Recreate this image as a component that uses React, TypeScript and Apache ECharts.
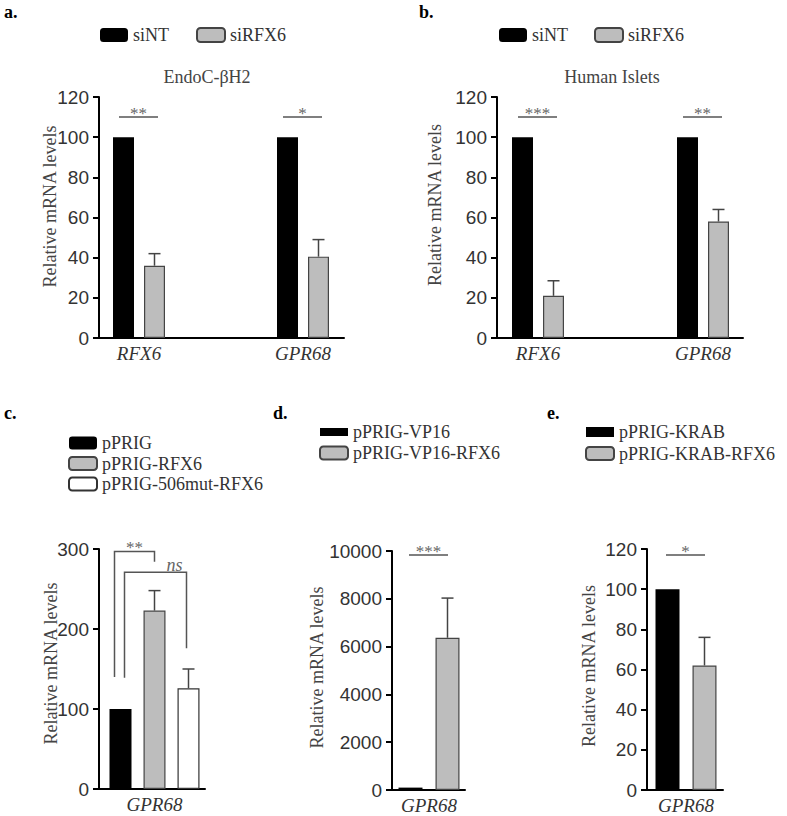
import React, { useEffect, useRef } from "react";
import * as echarts from "echarts";

// ---------- data ----------
const categoriesAB = ["RFX6", "GPR68"];
const siNT_a = [100, 100];
const siRFX6_a = [36, 40.5];
const siRFX6_a_err = [6, 8.5];
const sig_a = [
  { cat: 0, y: 110, label: "**" },
  { cat: 1, y: 110, label: "*" },
];

const siNT_b = [100, 100];
const siRFX6_b = [21, 58];
const siRFX6_b_err = [7.5, 6];
const sig_b = [
  { cat: 0, y: 110, label: "***" },
  { cat: 1, y: 110, label: "**" },
];

const categoriesC = ["GPR68"];
const pPRIG_c = [100];
const pPRIG_RFX6_c = [223];
const pPRIG_RFX6_c_err = [25];
const pPRIG_506_c = [126];
const pPRIG_506_c_err = [24];
const brackets_c = [
  { from: 0, to: 1, y: 297, yFrom: 140, yTo: 284, label: "**", dxFrom: -6, dxTo: 0, labelDx: 0, italic: false },
  { from: 0, to: 2, y: 271, yFrom: 139, yTo: 176, label: "ns", dxFrom: 4, dxTo: -2, labelDx: 19, italic: true },
];

const categoriesD = ["GPR68"];
const vp16_d = [100];
const vp16_rfx6_d = [6370];
const vp16_rfx6_d_err = [1660];
const sig_d = [{ cat: 0, y: 9830, label: "***" }];

const categoriesE = ["GPR68"];
const krab_e = [100];
const krab_rfx6_e = [62];
const krab_rfx6_e_err = [14];
const sig_e = [{ cat: 0, y: 117, label: "*" }];

const yTicksAB = { max: 120, interval: 20 };
const yTicksC = { max: 300, interval: 100 };
const yTicksD = { max: 10000, interval: 2000 };
const yTicksE = { max: 120, interval: 20 };

// ---------- styles ----------
const SERIF = "'Liberation Serif', 'Times New Roman', serif";
const SANS = "'Liberation Sans Narrow', 'Liberation Sans', Arial, sans-serif";
const BLACK = { color: "#000" };
const GRAY = { color: "#bdbdbd", borderColor: "#444", borderWidth: 1.2 };
const WHITE = { color: "#fff", borderColor: "#333", borderWidth: 1.2 };

type Panel = {
  frame: { left: number; top: number; width: number; height: number };
  barsLeft: number;
  barsWidth: number;
  barWidth: number;
  gap: number;
  nBars: number;
  cats: string[];
  ticks: { max: number; interval: number };
};

const panels: Panel[] = [
  { frame: { left: 99, top: 97, width: 245, height: 241 }, barsLeft: 57, barsWidth: 328, barWidth: 21, gap: 10, nBars: 2, cats: categoriesAB, ticks: yTicksAB },
  { frame: { left: 497, top: 97, width: 246, height: 241 }, barsLeft: 455.5, barsWidth: 330, barWidth: 21, gap: 10, nBars: 2, cats: categoriesAB, ticks: yTicksAB },
  { frame: { left: 99, top: 549, width: 106, height: 240 }, barsLeft: 100.5, barsWidth: 108, barWidth: 22, gap: 12, nBars: 3, cats: categoriesC, ticks: yTicksC },
  { frame: { left: 392, top: 551, width: 73, height: 239 }, barsLeft: 392, barsWidth: 74, barWidth: 24, gap: 13, nBars: 2, cats: categoriesD, ticks: yTicksD },
  { frame: { left: 647, top: 549, width: 76, height: 241 }, barsLeft: 648, barsWidth: 76, barWidth: 24, gap: 13, nBars: 2, cats: categoriesE, ticks: yTicksE },
];

function barOffset(p: Panel, k: number) {
  return (k - (p.nBars - 1) / 2) * (p.barWidth + p.gap);
}

function buildOption() {
  const grid: any[] = [];
  const xAxis: any[] = [];
  const yAxis: any[] = [];
  const series: any[] = [];

  panels.forEach((p, i) => {
    const fi = 2 * i;
    const bi = 2 * i + 1;
    grid.push({ ...p.frame });
    grid.push({ left: p.barsLeft, width: p.barsWidth, top: p.frame.top, height: p.frame.height });
    xAxis.push({
      type: "category", gridIndex: fi, data: p.cats,
      axisLine: { show: true, lineStyle: { color: "#000", width: 2 } },
      axisTick: { show: false }, axisLabel: { show: false }, splitLine: { show: false },
    });
    xAxis.push({
      type: "category", gridIndex: bi, data: p.cats,
      axisLine: { show: false }, axisTick: { show: false }, splitLine: { show: false },
      axisLabel: { show: true, fontFamily: SERIF, fontStyle: "italic", fontSize: 19, color: "#333", margin: 6 },
    });
    yAxis.push({
      type: "value", gridIndex: fi, min: 0, max: p.ticks.max, interval: p.ticks.interval,
      axisLine: { show: true, lineStyle: { color: "#000", width: 2 } },
      axisTick: { show: true, length: 6, lineStyle: { color: "#000", width: 2 } },
      axisLabel: { show: true, fontFamily: SANS, fontSize: 19, color: "#333", margin: 10, formatter: (v: number) => String(v) },
      splitLine: { show: false },
    });
    yAxis.push({ type: "value", gridIndex: bi, min: 0, max: p.ticks.max, interval: p.ticks.interval, show: false, splitLine: { show: false } });
  });

  const barGapOf = (p: Panel) => `${(p.gap / p.barWidth) * 100}%`;
  const bar = (pi: number, name: string, data: number[], style: any) => ({
    type: "bar", name, xAxisIndex: 2 * pi + 1, yAxisIndex: 2 * pi + 1, data,
    barWidth: panels[pi].barWidth, barGap: barGapOf(panels[pi]), itemStyle: style, silent: true,
  });

  const errSeries = (pi: number, k: number, vals: number[], errs: number[]) => ({
    type: "custom", xAxisIndex: 2 * pi + 1, yAxisIndex: 2 * pi + 1, z: 5, silent: true,
    data: vals.map((v, c) => [c, v, errs[c]]),
    renderItem: (params: any, api: any) => {
      const c = api.value(0), v = api.value(1), e = api.value(2);
      const b = api.coord([c, v]);
      const t = api.coord([c, v + e]);
      const x = b[0] + barOffset(panels[pi], k);
      const st = { stroke: "#444", lineWidth: 1.5 };
      return {
        type: "group",
        children: [
          { type: "line", shape: { x1: x, y1: b[1], x2: x, y2: t[1] }, style: st },
          { type: "line", shape: { x1: x - 6, y1: t[1], x2: x + 6, y2: t[1] }, style: st },
        ],
      };
    },
  });

  const sigSeries = (pi: number, sig: { cat: number; y: number; label: string }[]) => ({
    type: "custom", xAxisIndex: 2 * pi + 1, yAxisIndex: 2 * pi + 1, z: 5, silent: true,
    data: sig.map((s) => [s.cat, s.y]),
    renderItem: (params: any, api: any) => {
      const s = sig[params.dataIndex];
      const pt = api.coord([s.cat, s.y]);
      return {
        type: "group",
        children: [
          { type: "line", shape: { x1: pt[0] - 20, y1: pt[1], x2: pt[0] + 19, y2: pt[1] }, style: { stroke: "#555", lineWidth: 1.5 } },
          { type: "text", x: pt[0] - 0.5, y: pt[1] + 5, style: { text: s.label, fill: "#666", fontFamily: SERIF, fontSize: 17, align: "center", verticalAlign: "bottom" } },
        ],
      };
    },
  });

  const bracketSeries = (pi: number) => ({
    type: "custom", xAxisIndex: 2 * pi + 1, yAxisIndex: 2 * pi + 1, z: 5, silent: true,
    data: brackets_c.map((b) => [0, b.y]),
    renderItem: (params: any, api: any) => {
      const b = brackets_c[params.dataIndex];
      const p = panels[pi];
      const top = api.coord([0, b.y]);
      const x1 = top[0] + barOffset(p, b.from) + b.dxFrom;
      const x2 = top[0] + barOffset(p, b.to) + b.dxTo;
      const yF = api.coord([0, b.yFrom])[1];
      const yT = api.coord([0, b.yTo])[1];
      const mid = (x1 + x2) / 2 + b.labelDx;
      return {
        type: "group",
        children: [
          { type: "polyline", shape: { points: [[x1, yF], [x1, top[1]], [x2, top[1]], [x2, yT]] }, style: { stroke: "#555", lineWidth: 1.5, fill: null } },
          { type: "text", x: mid, y: top[1] + (b.italic ? 2 : 5), style: { text: b.label, fill: "#666", fontFamily: SERIF, fontStyle: b.italic ? "italic" : "normal", fontSize: b.italic ? 18 : 17, align: "center", verticalAlign: "bottom" } },
        ],
      };
    },
  });

  series.push(bar(0, "siNT", siNT_a, BLACK), bar(0, "siRFX6", siRFX6_a, GRAY), errSeries(0, 1, siRFX6_a, siRFX6_a_err), sigSeries(0, sig_a));
  series.push(bar(1, "siNT", siNT_b, BLACK), bar(1, "siRFX6", siRFX6_b, GRAY), errSeries(1, 1, siRFX6_b, siRFX6_b_err), sigSeries(1, sig_b));
  series.push(
    bar(2, "pPRIG", pPRIG_c, BLACK), bar(2, "pPRIG-RFX6", pPRIG_RFX6_c, GRAY), bar(2, "pPRIG-506mut-RFX6", pPRIG_506_c, WHITE),
    errSeries(2, 1, pPRIG_RFX6_c, pPRIG_RFX6_c_err), errSeries(2, 2, pPRIG_506_c, pPRIG_506_c_err), bracketSeries(2)
  );
  series.push(bar(3, "pPRIG-VP16", vp16_d, BLACK), bar(3, "pPRIG-VP16-RFX6", vp16_rfx6_d, GRAY), errSeries(3, 1, vp16_rfx6_d, vp16_rfx6_d_err), sigSeries(3, sig_d));
  series.push(bar(4, "pPRIG-KRAB", krab_e, BLACK), bar(4, "pPRIG-KRAB-RFX6", krab_rfx6_e, GRAY), errSeries(4, 1, krab_rfx6_e, krab_rfx6_e_err), sigSeries(4, sig_e));

  const legendText = { fontFamily: SERIF, fontSize: 18, color: "#333", lineHeight: 20 };
  const legendBase = { selectedMode: false, itemWidth: 28, itemHeight: 14, textStyle: legendText, padding: 0 };
  const legend = [
    { ...legendBase, left: 100, top: 25, itemGap: 27, data: ["siNT", "siRFX6"] },
    { ...legendBase, left: 499, top: 25, itemGap: 26, data: ["siNT", "siRFX6"] },
    { ...legendBase, orient: "vertical", left: 68, top: 433, itemHeight: 13, itemGap: 0.5, data: ["pPRIG", "pPRIG-RFX6", "pPRIG-506mut-RFX6"] },
    { ...legendBase, orient: "vertical", left: 319, top: 422, itemHeight: 13, itemGap: 1, data: [{ name: "pPRIG-VP16", icon: "path://M0,0h28v8h-28z" }, "pPRIG-VP16-RFX6"] },
    { ...legendBase, orient: "vertical", left: 585, top: 422, itemHeight: 13, itemGap: 1.5, data: [{ name: "pPRIG-KRAB", icon: "path://M0,0h28v10h-28z" }, "pPRIG-KRAB-RFX6"] },
  ];

  const txt = (text: string, x: number, y: number, extra: any = {}) => ({
    type: "text", x, y, rotation: extra.rotation || 0, silent: true,
    style: { text, fill: extra.fill || "#444", fontFamily: SERIF, fontSize: extra.fontSize || 18, fontWeight: extra.fontWeight || "normal", align: extra.align || "center", verticalAlign: "middle" },
  });
  const yTitle = "Relative mRNA levels";
  const graphic = [
    txt("a.", 4, 12, { fontWeight: "bold", align: "left", fill: "#000" }),
    txt("b.", 419, 12, { fontWeight: "bold", align: "left", fill: "#000" }),
    txt("c.", 4, 413, { fontWeight: "bold", align: "left", fill: "#000" }),
    txt("d.", 273, 413, { fontWeight: "bold", align: "left", fill: "#000" }),
    txt("e.", 547, 413, { fontWeight: "bold", align: "left", fill: "#000" }),
    txt("EndoC-βH2", 207, 77),
    txt("Human Islets", 612, 77),
    txt(yTitle, 50, 206.5, { rotation: Math.PI / 2 }),
    txt(yTitle, 435, 205, { rotation: Math.PI / 2 }),
    txt(yTitle, 51, 663.5, { rotation: Math.PI / 2 }),
    txt(yTitle, 317, 667.5, { rotation: Math.PI / 2 }),
    txt(yTitle, 589, 666, { rotation: Math.PI / 2 }),
  ];

  return { animation: false, backgroundColor: "#fff", grid, xAxis, yAxis, series, legend, graphic };
}

export default function App() {
  const ref = useRef<HTMLDivElement>(null);
  useEffect(() => {
    if (!ref.current) return;
    const chart = echarts.init(ref.current, undefined, { renderer: "svg" });
    chart.setOption(buildOption() as any);
    return () => chart.dispose();
  }, []);
  return <div ref={ref} style={{ position: "absolute", left: 0, top: 0, width: 787, height: 816 }} />;
}
